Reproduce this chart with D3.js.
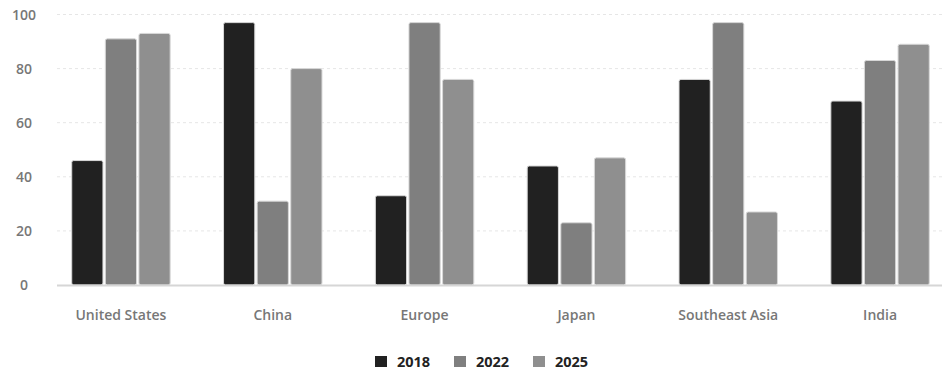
<!DOCTYPE html>
<html>
<head>
<meta charset="utf-8">
<script src="https://cdn.jsdelivr.net/npm/d3@7"></script>
<style>
  html, body { margin: 0; padding: 0; background: #fff; }
  svg { display: block; font-family: "Open Sans", sans-serif; }
</style>
</head>
<body>
<svg id="chart" width="942" height="369"></svg>
<script>
const categories = ["United States", "China", "Europe", "Japan", "Southeast Asia", "India"];
const seriesNames = ["2018", "2022", "2025"];
const values2018 = [46, 97, 33, 44, 76, 68];
const values2022 = [91, 31, 97, 23, 97, 83];
const values2025 = [93, 80, 76, 47, 27, 89];
const yTicks = [0, 20, 40, 60, 80, 100];
const colors = ["#212121", "#7f7f7f", "#8f8f8f"];

const seriesValues = [values2018, values2022, values2025];
const data = categories.map((c, i) => ({
  category: c,
  values: seriesNames.map((s, j) => ({ series: s, value: seriesValues[j][i] }))
}));

const svg = d3.select("#chart");
const plotLeft = 57, plotRight = 942;

const y = d3.scaleLinear().domain([0, 100]).range([285, 14.5]);
const x0 = d3.scaleBand().domain(categories).range([45, 956])
  .paddingInner(0.3516).paddingOuter(0.176);
const x1 = d3.scaleBand().domain(seriesNames).range([0, x0.bandwidth()])
  .paddingInner(0.07).paddingOuter(0);
const color = d3.scaleOrdinal().domain(seriesNames).range(colors);

// gridlines
svg.append("g").selectAll("line")
  .data(yTicks.filter(t => t > 0))
  .join("line")
  .attr("x1", plotLeft).attr("x2", plotRight)
  .attr("y1", d => y(d)).attr("y2", d => y(d))
  .attr("stroke", "#e6e6e6")
  .attr("stroke-width", 1)
  .attr("stroke-dasharray", "3,3");

// y axis labels
const yAxis = d3.axisLeft(y).tickValues(yTicks).tickSize(0).tickPadding(0);
const yg = svg.append("g").attr("transform", "translate(24,0)").call(yAxis);
yg.select(".domain").remove();
yg.selectAll("text")
  .attr("text-anchor", "middle")
  .attr("dy", "0.35em")
  .attr("fill", "#777")
  .style("font-size", "14px")
  .style("font-weight", 600)
  .style("font-family", "'Open Sans', sans-serif");

// bars
const groups = svg.append("g").selectAll("g")
  .data(data)
  .join("g")
  .attr("transform", d => `translate(${x0(d.category)},0)`);

groups.selectAll("rect")
  .data(d => d.values)
  .join("rect")
  .attr("x", d => x1(d.series))
  .attr("y", d => y(d.value))
  .attr("width", x1.bandwidth())
  .attr("height", d => y(0) - y(d.value))
  .attr("rx", 2)
  .attr("fill", d => color(d.series))
  .attr("stroke", "#d8d8d8")
  .attr("stroke-width", 1);

// x axis line
svg.append("line")
  .attr("x1", plotLeft).attr("x2", plotRight)
  .attr("y1", y(0) + 0.5).attr("y2", y(0) + 0.5)
  .attr("stroke", "#d6d6d6")
  .attr("stroke-width", 2);

// x axis labels
const xAxis = d3.axisBottom(x0).tickSize(0).tickPadding(0);
const xg = svg.append("g").attr("transform", "translate(0,320)").call(xAxis);
xg.select(".domain").remove();
xg.selectAll("text")
  .attr("dy", "0")
  .attr("y", 0)
  .attr("fill", "#777")
  .style("font-size", "14px")
  .style("font-weight", 600)
  .style("font-family", "'Open Sans', sans-serif");

// legend
const legendX = [375, 454, 533];
const legend = svg.append("g").selectAll("g")
  .data(seriesNames)
  .join("g")
  .attr("transform", (d, i) => `translate(${legendX[i]},356)`);
legend.append("rect")
  .attr("width", 12).attr("height", 11)
  .attr("fill", d => color(d));
legend.append("text")
  .attr("x", 22).attr("y", 10.5)
  .attr("fill", "#222")
  .style("font-size", "14.5px")
  .style("font-weight", 700)
  .style("font-family", "'Open Sans', sans-serif")
  .text(d => d);
</script>
</body>
</html>
